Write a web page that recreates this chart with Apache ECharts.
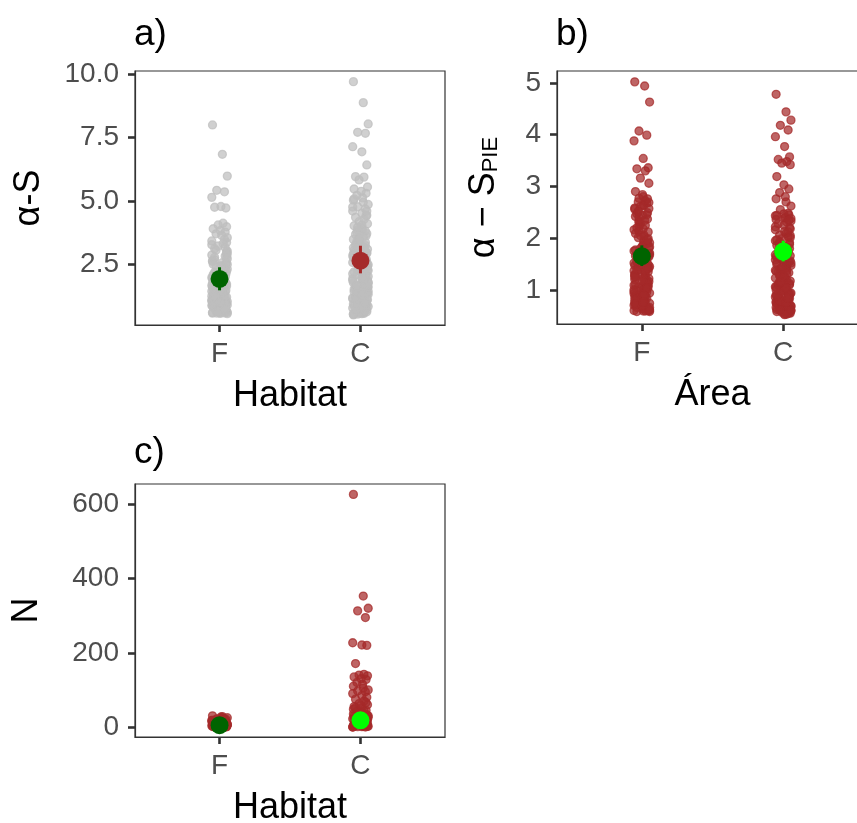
<!DOCTYPE html>
<html>
<head>
<meta charset="utf-8">
<script src="https://cdn.jsdelivr.net/npm/echarts@6/dist/echarts.min.js"></script>
<style>
  html, body { margin: 0; padding: 0; background: #fff; }
  #container { width: 857px; height: 823px; }
</style>
</head>
<body>
<div id="container"></div>
<script>
/* datos */
const categories = ['F', 'C'];

// a) alpha-S por hábitat
const aF = [8.0, 6.84, 5.98, 5.42, 5.36, 5.14, 4.78, 4.72, 4.75, 4.12, 4.05, 3.98, 3.9, 3.83, 3.77, 3.7, 3.64,
  1.12, 0.74, 2.31, 1.58, 0.93, 3.42, 1.86, 0.61, 2.77, 1.27, 0.88, 1.64, 2.09, 0.69, 1.41, 3.05,
  0.82, 1.95, 2.56, 1.03, 0.57, 1.73, 3.27, 1.19, 0.97, 2.18, 1.49, 0.66, 2.94, 1.33, 0.79, 1.81,
  2.42, 1.07, 0.59, 1.62, 3.55, 2.03, 0.86, 1.24, 1.91, 0.72, 2.68, 1.37, 1.01, 0.63, 1.53, 2.25,
  3.16, 0.91, 1.16, 1.77, 0.77, 2.49, 1.44, 0.68, 2.86, 1.29, 0.95, 1.68, 2.13, 0.84, 3.36, 1.09,
  0.56, 1.99, 1.56, 0.73, 2.61, 1.22, 0.89, 1.85, 2.37, 1.05, 0.64, 1.47, 3.11, 0.81, 1.71, 2.22,
  1.14, 0.7, 2.82, 1.35, 0.99, 1.6, 2.05, 0.6, 1.26, 3.48, 0.87, 1.9, 2.52, 1.18, 0.75, 1.51,
  2.99, 0.94, 1.39, 0.65, 2.16, 1.78, 1.1, 0.83, 2.72, 1.31, 0.58, 1.66, 2.44, 1.02, 0.78, 1.93,
  3.22, 1.2, 0.9, 1.45, 2.33, 0.67, 1.75, 2.64, 1.06, 0.55, 1.88,
  0.62, 1.08, 1.57, 2.11, 0.76, 1.34, 1.83, 2.58, 0.98, 0.59, 1.21, 1.69, 2.27, 0.85, 1.46, 3.02,
  0.71, 1.15, 1.97, 2.4, 0.93, 1.28, 1.61, 0.66, 2.79, 1.04, 1.52, 0.8, 2.15, 1.38, 0.57, 1.8,
  2.91, 1.13, 0.69, 1.43, 2.03, 0.88, 1.25, 3.31, 0.61, 1.72, 2.5, 1.0, 0.74];
const aC = [9.71, 8.88, 8.04, 7.71, 7.67, 7.14, 6.94, 6.42, 5.96, 5.94, 5.83,
  5.55, 5.47, 5.38, 5.3, 5.22, 5.12, 5.03, 4.95, 4.86, 4.77, 4.68, 4.6, 4.51, 4.43, 4.35, 4.27, 4.18, 4.1, 4.02, 3.94,
  1.32, 2.71, 0.64, 3.48, 1.97, 0.83, 2.26, 3.81, 1.14, 0.55, 2.93, 1.66, 3.17, 0.97, 2.44, 1.41,
  0.72, 3.62, 2.08, 1.23, 0.5, 2.82, 1.79, 3.33, 0.89, 2.57, 1.05, 3.71, 1.54, 0.61, 2.35, 1.88,
  3.05, 0.78, 2.66, 1.29, 3.9, 0.93, 2.15, 1.6, 0.53, 3.24, 1.17, 2.49, 0.69, 2.99, 1.72, 3.56,
  1.36, 0.86, 2.19, 1.01, 3.41, 0.58, 2.76, 1.47, 2.02, 3.12, 0.75, 1.93, 2.62, 1.09, 3.68, 0.66,
  2.31, 1.58, 2.87, 1.25, 0.81, 3.29, 1.84, 0.52, 2.53, 1.43, 3.85, 0.95, 2.12, 1.69, 2.95, 1.19,
  0.7, 3.52, 2.4, 1.51, 0.6, 2.71, 1.07, 3.2, 1.77, 0.88, 2.25, 1.34, 3.0, 0.77, 1.99, 2.58,
  1.12, 0.56, 3.44, 1.63, 2.84, 0.99, 2.06, 1.39, 0.67, 3.15,
  1.21, 2.48, 0.63, 3.37, 1.86, 4.05, 0.91, 2.79, 1.48, 0.57, 3.09, 2.2, 1.03, 4.41, 1.67, 0.74,
  2.91, 3.58, 1.31, 0.84, 2.37, 4.76, 1.95, 0.62, 3.27, 1.56, 2.65, 1.1, 5.08, 0.79, 2.1, 3.76,
  1.4, 0.54, 2.54, 1.75, 3.96, 0.98, 2.83, 1.27, 4.6, 0.68, 1.9, 3.46, 2.29];
const aMean = [1.92, 2.64];
const aLow = [1.47, 2.14];
const aHigh = [2.38, 3.23];

// b) alpha-S PIE por área
const bF = [5.02, 4.94, 4.63, 4.07, 3.99, 3.88, 3.54, 3.36, 3.34, 3.3, 3.16, 3.06, 2.9,
  2.84, 2.76, 2.7, 2.63, 2.58, 1.12, 0.74, 2.31, 1.58, 0.93, 1.86, 0.61, 2.47, 1.27, 0.88, 1.64,
  2.09, 0.69, 1.41, 0.82, 1.95, 2.56, 1.03, 0.58, 1.73, 1.19, 0.97, 2.18, 1.49, 0.66, 1.33, 0.79,
  1.81, 2.42, 1.07, 0.6, 1.62, 2.03, 0.86, 1.24, 1.91, 0.72, 2.68, 1.37, 1.01, 0.63, 1.53, 2.25,
  0.91, 1.16, 1.77, 0.77, 2.49, 1.44, 0.68, 1.29, 0.95, 1.68, 2.13, 0.84, 1.09, 0.59, 1.99, 1.56,
  0.73, 2.61, 1.22, 0.89, 1.85, 2.37, 1.05, 0.64, 1.47, 0.81, 1.71, 2.22, 1.14, 0.7, 2.8, 1.35,
  0.99, 1.6, 2.05, 0.62, 1.26, 0.87, 1.9, 2.52, 1.18, 0.75, 1.51, 0.94, 1.39, 0.65, 2.16, 1.78,
  1.1, 0.83, 2.72, 1.31, 0.6, 1.66, 2.44, 1.02, 0.78, 1.93, 1.2, 0.9, 1.45, 2.33, 0.67, 1.75,
  2.64, 1.06, 0.58, 1.88, 2.28, 1.42, 0.71,
  0.63, 1.13, 1.54, 2.06, 0.8, 1.36, 1.83, 2.4, 0.96, 0.6, 1.23, 1.7, 2.2, 0.86, 1.48, 2.69,
  0.72, 1.17, 1.97, 2.5, 0.92, 1.29, 1.63, 0.66, 2.77, 1.04, 1.52, 0.79, 2.12, 1.38, 0.59, 1.8,
  2.57, 1.11, 0.69, 1.43, 2.01, 0.89, 1.25, 2.34, 0.61, 1.73, 2.45, 1.0, 0.76];
const bC = [4.78, 4.44, 4.28, 4.18, 4.09, 3.96, 3.77, 3.57, 3.52, 3.48, 3.45, 3.42, 3.19, 3.03,
  2.95, 2.88, 2.8, 2.76, 2.7, 2.62, 2.55, 2.48, 2.43, 2.39, 1.12, 0.74, 2.31, 1.58, 0.93, 1.86,
  0.61, 2.45, 1.27, 0.88, 1.64, 2.09, 0.69, 1.41, 0.82, 1.95, 1.03, 0.56, 1.73, 1.19, 0.97, 2.18,
  1.49, 0.66, 1.33, 0.79, 1.81, 2.36, 1.07, 0.6, 1.62, 2.03, 0.86, 1.24, 1.91, 0.72, 1.37, 1.01,
  0.63, 1.53, 2.25, 0.91, 1.16, 1.77, 0.77, 1.44, 0.68, 1.29, 0.95, 1.68, 2.13, 0.84, 1.09, 0.53,
  1.99, 1.56, 0.73, 1.22, 0.89, 1.85, 2.4, 1.05, 0.64, 1.47, 0.81, 1.71, 2.22, 1.14, 0.7, 1.35,
  0.99, 1.6, 2.05, 0.62, 1.26, 0.87, 1.9, 1.18, 0.75, 1.51, 0.94, 1.39, 0.65, 2.16, 1.78, 1.1,
  0.83, 1.31, 0.57, 1.66, 2.44, 1.02, 0.78, 1.93, 1.2, 0.9, 1.45, 2.33, 0.67, 1.75, 1.06, 0.52,
  1.88, 2.28, 1.42, 0.71, 0.55,
  0.58, 1.13, 1.54, 2.06, 0.8, 1.36, 1.83, 2.38, 0.96, 0.55, 1.23, 1.7, 2.2, 0.86, 1.48, 0.72,
  1.17, 1.97, 2.47, 0.92, 1.29, 1.63, 0.66, 1.04, 1.52, 0.79, 2.12, 1.38, 0.54, 1.8, 1.11, 0.69,
  1.43, 2.01, 0.89, 1.25, 2.34, 0.61, 1.73, 1.0, 0.76, 0.6, 1.15, 0.84, 1.58];
const bMean = [1.65, 1.74];
const bLow = [1.46, 1.55];
const bHigh = [1.86, 1.95];

// c) N por hábitat
const cF = [30, 28, 25, 22, 20, 18, 16, 15, 14, 12, 11, 10, 9, 8, 8, 7, 6, 6, 5, 5,
  4, 4, 3, 3, 2, 2, 2, 1, 1, 1, 0, 0, 0, 12, 18, 24, 6, 3, 9, 15, 27, 21, 13, 7, 4, 1,
  2, 5, 10, 17, 23, 3, 0, 8, 11, 19];
const cC = [627, 353, 320, 313, 295, 227, 221, 220, 171, 142, 140, 138, 135, 130, 128,
  120, 115, 110, 105, 100, 97, 95, 90, 85, 80, 75, 70, 63, 60, 55, 50, 45, 42, 38,
  35, 32, 30, 28, 25, 22, 20, 18, 16, 14, 12, 10, 9, 8, 7, 6, 5, 4, 3, 2, 1, 0, 0,
  1, 3, 5, 8, 12, 20, 30, 40, 15, 6, 2, 48, 36, 26, 11, 4, 0, 17, 33, 52, 44, 7, 2,
  23, 58, 66, 13, 9, 1];
const cMean = [5, 18];
const cLow = [2, 10];
const cHigh = [9, 30];

// desplazamientos fijos de jitter (en unidades de categoría)
const jitter = [-0.05, 0.02, 0.055, -0.02, 0.035, -0.055, 0.01, 0.045, -0.035,
  0.025, -0.01, 0.05, -0.045, 0.005, 0.04, -0.025, 0.015];

const yTicksA = [2.5, 5.0, 7.5, 10.0];
const yTicksB = [1, 2, 3, 4, 5];
const yTicksC = [0, 200, 400, 600];

const FONT = "'Liberation Sans', Arial, sans-serif";
const GREY_PT = 'rgba(190,190,190,0.72)';
const BROWN_PT = 'rgba(165,42,42,0.72)';
const DARKGREEN = '#006400';
const LIME = '#00FF00';
const BROWN = '#A52A2A';

function jittered(values, cat) {
    return values.map((v, i) => [cat + jitter[i % jitter.length], v]);
}

function xAxisFor(idx, name) {
    return {
        type: 'value', gridIndex: idx, min: 0.4, max: 2.6,
        axisLine: { show: true, onZero: false, lineStyle: { color: '#333', width: 1.2 } },
        axisTick: { show: true, customValues: [1, 2], length: 7, lineStyle: { color: '#333', width: 2.6 } },
        axisLabel: { customValues: [1, 2], formatter: v => categories[Math.round(v) - 1],
            color: '#4D4D4D', fontSize: 28, fontFamily: FONT, margin: 15 },
        splitLine: { show: false },
        name: name, nameLocation: 'middle', nameGap: 53,
        nameTextStyle: { color: '#000', fontSize: 36, fontFamily: FONT }
    };
}

function yAxisFor(idx, min, max, ticks, fmt, name, gap, rich) {
    return {
        type: 'value', gridIndex: idx, min: min, max: max,
        axisLine: { show: true, onZero: false, lineStyle: { color: '#333', width: 1.2 } },
        axisTick: { show: true, customValues: ticks, length: 7, lineStyle: { color: '#333', width: 2.6 } },
        axisLabel: { customValues: ticks, formatter: fmt, color: '#4D4D4D', fontSize: 28, fontFamily: FONT, margin: 16 },
        splitLine: { show: false },
        name: name, nameLocation: 'middle', nameGap: gap, nameRotate: 90,
        nameTextStyle: { color: '#000', fontSize: 36, fontFamily: FONT, rich: rich }
    };
}

function pointSeries(idx, data, color) {
    return {
        type: 'scatter', xAxisIndex: idx, yAxisIndex: idx, data: data,
        symbolSize: 8, silent: true, z: 2,
        itemStyle: { color: color, borderColor: color, borderWidth: 1.3, opacity: 1 }
    };
}

function errorSeries(idx, low, high, colors) {
    return {
        type: 'custom', xAxisIndex: idx, yAxisIndex: idx, zlevel: 1, z: 3, silent: true,
        data: low.map((l, i) => [i + 1, l, high[i]]),
        encode: { x: 0, y: [1, 2] },
        renderItem: function (params, api) {
            const p1 = api.coord([api.value(0), api.value(1)]);
            const p2 = api.coord([api.value(0), api.value(2)]);
            return {
                type: 'line',
                shape: { x1: p1[0], y1: p1[1], x2: p2[0], y2: p2[1] },
                style: { stroke: colors[params.dataIndex], lineWidth: 3 }
            };
        }
    };
}

function meanSeries(idx, means, colors) {
    return {
        type: 'scatter', xAxisIndex: idx, yAxisIndex: idx, zlevel: 1, z: 4, silent: true,
        symbolSize: 18,
        data: means.map((m, i) => ({ value: [i + 1, m], itemStyle: { color: colors[i], opacity: 1 } }))
    };
}

const dom = document.getElementById('container');
const myChart = echarts.init(dom);

const gridBox = { show: true, borderColor: '#333', borderWidth: 1.2, outerBoundsMode: 'none', containLabel: false };

const option = {
    animation: false,
    backgroundColor: '#fff',
    grid: [
        Object.assign({ left: 135, top: 71, width: 310, height: 254 }, gridBox),
        Object.assign({ left: 557, top: 71, width: 311, height: 253 }, gridBox),
        Object.assign({ left: 135, top: 484, width: 310, height: 253 }, gridBox)
    ],
    xAxis: [
        xAxisFor(0, 'Habitat'),
        xAxisFor(1, 'Área'),
        xAxisFor(2, 'Habitat')
    ],
    yAxis: [
        yAxisFor(0, 0.1, 10.13, yTicksA, v => v.toFixed(1), 'α-S', 88),
        yAxisFor(1, 0.34, 5.23, yTicksB, v => String(v), '{a|α − S}{s|PIE}', 55, {
            a: { fontSize: 36, fontFamily: FONT, color: '#000', lineHeight: 36 },
            s: { fontSize: 22, fontFamily: FONT, color: '#000', lineHeight: 10, verticalAlign: 'bottom' }
        }),
        yAxisFor(2, -27, 655, yTicksC, v => String(v), 'N', 90)
    ],
    graphic: [
        { type: 'text', left: 134, top: 16, style: { text: 'a)', fontSize: 37, fontFamily: FONT, fill: '#000' } },
        { type: 'text', left: 556, top: 16, style: { text: 'b)', fontSize: 37, fontFamily: FONT, fill: '#000' } },
        { type: 'text', left: 134, top: 434, style: { text: 'c)', fontSize: 37, fontFamily: FONT, fill: '#000' } }
    ],
    series: [
        pointSeries(0, jittered(aF, 1).concat(jittered(aC, 2)), GREY_PT),
        errorSeries(0, aLow, aHigh, [DARKGREEN, BROWN]),
        meanSeries(0, aMean, [DARKGREEN, BROWN]),
        pointSeries(1, jittered(bF, 1).concat(jittered(bC, 2)), BROWN_PT),
        errorSeries(1, bLow, bHigh, [DARKGREEN, LIME]),
        meanSeries(1, bMean, [DARKGREEN, LIME]),
        pointSeries(2, jittered(cF, 1).concat(jittered(cC, 2)), BROWN_PT),
        errorSeries(2, cLow, cHigh, [DARKGREEN, LIME]),
        meanSeries(2, cMean, [DARKGREEN, LIME])
    ]
};

myChart.setOption(option, true);
</script>
</body>
</html>
